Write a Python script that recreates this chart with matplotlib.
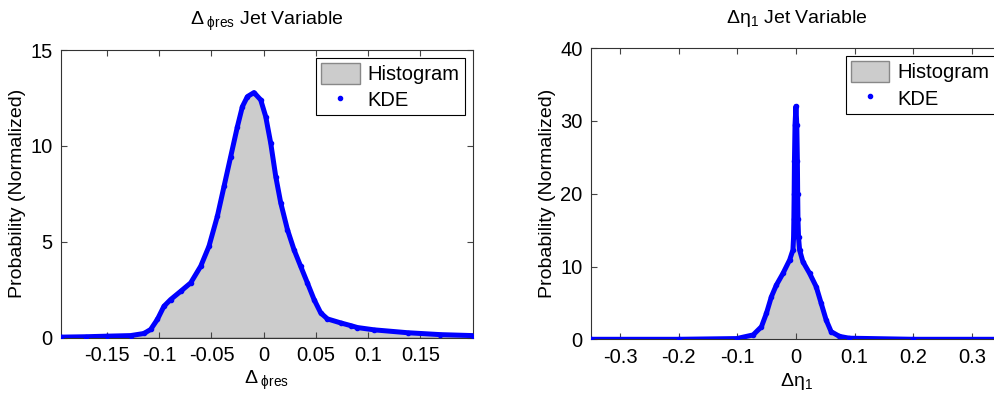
import matplotlib.pyplot as plt
from matplotlib.lines import Line2D
from matplotlib.patches import Patch

plt.rcParams["font.family"] = ["Liberation Sans", "DejaVu Sans"]
plt.rcParams["mathtext.fontset"] = "custom"
plt.rcParams["mathtext.rm"] = "Liberation Sans"
plt.rcParams["mathtext.it"] = "Liberation Sans:italic"

# -----------------------------------------------------
# data (KDE / histogram shape)
# -----------------------------------------------------

phi_x = [-0.194, -0.17, -0.15, -0.1274, -0.1146, -0.1082, -0.1018, -0.0955,
         -0.0891, -0.0795, -0.0699, -0.0603, -0.0524, -0.0444, -0.038, -0.0316,
         -0.0252, -0.0204, -0.0156, -0.0093, -0.0029, 0.0019, 0.0067, 0.0115,
         0.0163, 0.0227, 0.029, 0.0354, 0.0418, 0.0482, 0.0546, 0.061, 0.0738,
         0.0833, 0.0897, 0.1056, 0.1376, 0.169, 0.2]
phi_y = [0.02, 0.04, 0.07, 0.1, 0.21, 0.42, 0.94, 1.63,
         1.98, 2.41, 2.85, 3.72, 4.76, 6.32, 7.88, 9.44,
         11.0, 12.05, 12.57, 12.78, 12.4, 11.53, 10.14, 8.4,
         7.02, 5.63, 4.58, 3.71, 2.85, 1.98, 1.28, 0.97, 0.76,
         0.62, 0.52, 0.4, 0.25, 0.15, 0.1]

eta_x = [-0.35, -0.2, -0.101, -0.073, -0.0588, -0.0503, -0.0418, -0.0333,
         -0.022, -0.0107, -0.0051, -0.0040, -0.0035, -0.0030, -0.0025, -0.0015,
         0.0, 0.0015, 0.0025, 0.0030, 0.0035, 0.0045, 0.0063, 0.0119, 0.0233,
         0.0346, 0.0431, 0.0516, 0.0601, 0.0742, 0.091, 0.2, 0.35]
eta_y = [0.0, 0.0, 0.1, 0.6, 1.73, 3.57, 5.86, 7.46,
         9.07, 10.9, 12.27, 14.0, 16.5, 20.0, 24.5, 29.5,
         32.0, 29.5, 24.5, 20.0, 16.5, 14.0, 12.27, 10.67, 9.07,
         7.23, 4.95, 2.65, 1.05, 0.4, 0.15, 0.0, 0.0]

phi_ticks = [-0.15, -0.1, -0.05, 0, 0.05, 0.1, 0.15]
eta_ticks = [-0.3, -0.2, -0.1, 0, 0.1, 0.2, 0.3]

HIST_GRAY = "#cccccc"
KDE_BLUE = "#0000ff"

fig = plt.figure(figsize=(9.95, 3.96), dpi=100)

ax1 = fig.add_axes([0.0613, 0.1477, 0.4138, 0.726])
ax2 = fig.add_axes([0.5937, 0.1432, 0.4139, 0.735])

panels = [
    (ax1, phi_x, phi_y, (-0.194, 0.2), (0, 15), [0, 5, 10, 15], phi_ticks,
     r"$\Delta_{\ \mathregular{\phi res}}$ Jet Variable",
     r"$\Delta_{\ \mathregular{\phi res}}$"),
    (ax2, eta_x, eta_y, (-0.35, 0.3525), (0, 40), [0, 10, 20, 30, 40], eta_ticks,
     r"$\mathregular{\Delta\eta_1}$ Jet Variable",
     r"$\mathregular{\Delta\eta_1}$"),
]

for ax, xs, ys, xlim, ylim, yticks, xticks, title, xlabel in panels:

    # histogram area
    ax.fill_between(xs, 0, ys, facecolor=HIST_GRAY, edgecolor="#999999",
                    linewidth=0.8, zorder=1)

    # KDE, drawn as dense dots
    ax.plot(xs, ys, color=KDE_BLUE, linewidth=3.6, marker=".",
            markersize=6, zorder=3)

    ax.set_xlim(*xlim)
    ax.set_ylim(*ylim)
    ax.set_xticks(xticks)
    ax.set_xticklabels([f"{t:g}" for t in xticks])
    ax.set_yticks(yticks)

    ax.tick_params(direction="in", top=True, right=True, labelsize=14.5,
                   length=4, color="#444444", pad=6)
    for sp in ax.spines.values():
        sp.set_color("#333333")
        sp.set_linewidth(0.8)

    ax.set_title(title, fontsize=14, pad=18)
    ax.set_xlabel(xlabel, fontsize=14, labelpad=3)
    ax.set_ylabel("Probability (Normalized)", fontsize=14, labelpad=3)

    handles = [
        Patch(facecolor=HIST_GRAY, edgecolor="#888888", label="Histogram"),
        Line2D([], [], color=KDE_BLUE, marker=".", linestyle="none",
               markersize=6, label="KDE"),
    ]
    leg = ax.legend(handles=handles, loc="upper right", fontsize=14.5,
                    fancybox=False, framealpha=1, edgecolor="black",
                    borderaxespad=0.4, handlelength=1.9, handleheight=1.2,
                    handletextpad=0.4, borderpad=0.25, labelspacing=0.25)
    leg.get_frame().set_linewidth(0.8)

plt.savefig("out.png", dpi=100)
plt.close()
